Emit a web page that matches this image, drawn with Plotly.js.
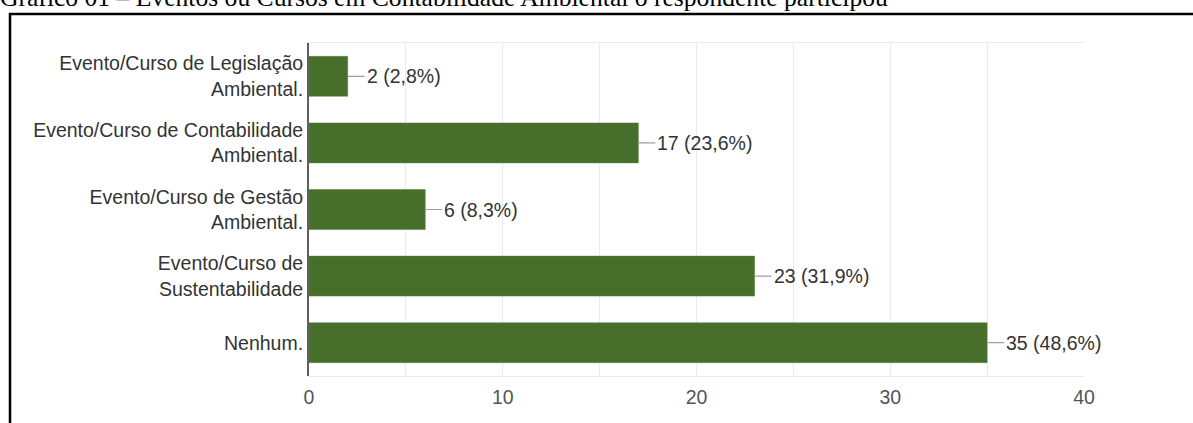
<!DOCTYPE html>
<html>
<head>
<meta charset="utf-8">
<script src="https://cdn.plot.ly/plotly-3.0.1.min.js"></script>
<style>
html,body{margin:0;padding:0;background:#fff;}
#chart{width:1193px;height:423px;}
</style>
</head>
<body>
<div id="chart"></div>
<script>
const categories = [
  "Evento/Curso de Legislação<br>Ambiental.",
  "Evento/Curso de Contabilidade<br>Ambiental.",
  "Evento/Curso de Gestão<br>Ambiental.",
  "Evento/Curso de<br>Sustentabilidade",
  "Nenhum."
];
const counts = [2, 17, 6, 23, 35];
const percents = [2.8, 23.6, 8.3, 31.9, 48.6];
const xTicks = [0, 10, 20, 30, 40];
const titleText = "Gráfico 01 – Eventos ou Cursos em Contabilidade Ambiental o respondente participou";

const W = 1193, H = 423;
const mL = 309, mR = 109, mT = 43, mB = 47;
const pw = W - mL - mR, ph = H - mT - mB;
const px2x = p => (p - mL) / pw;
const py2y = p => 1 - (p - mT) / ph;

const FONT = "Liberation Sans, Arial, sans-serif";
const labels = counts.map((c, i) => c + " (" + percents[i].toFixed(1).replace(".", ",") + "%)");

const annotations = counts.map((c, i) => ({
  x: c, y: categories[i], xref: "x", yref: "y",
  text: labels[i], showarrow: true, arrowhead: 0, arrowwidth: 1.2,
  arrowcolor: "#9e9e9e", ax: 17, ay: 0, xanchor: "left", yanchor: "middle",
  font: {family: FONT, size: 19.5, color: "#333333"}
}));
annotations.push({
  text: titleText, showarrow: false,
  xref: "paper", yref: "paper", x: px2x(-2), y: py2y(-2.3),
  xanchor: "left", yanchor: "middle",
  font: {family: "Liberation Serif, Times New Roman, serif", size: 25.6, color: "#000"}
});

const shapes = [
  {type: "line", xref: "paper", yref: "paper", x0: px2x(10), x1: px2x(10), y0: py2y(13), y1: py2y(H + 10),
   line: {color: "#000", width: 2.5}},
  {type: "line", xref: "paper", yref: "paper", x0: px2x(9), x1: px2x(W + 10), y0: py2y(14), y1: py2y(14),
   line: {color: "#000", width: 2.5}}
];

const data = [{
  type: "bar", orientation: "h",
  x: counts, y: categories,
  marker: {color: "#476e2a", line: {color: "#5b8040", width: 0.5}},
  hoverinfo: "none"
}];

const layout = {
  width: W, height: H,
  margin: {l: mL, r: mR, t: mT, b: mB, pad: 0},
  paper_bgcolor: "#fff", plot_bgcolor: "#fff",
  showlegend: false,
  bargap: 0.4,
  xaxis: {
    range: [0, 40], tickvals: xTicks, ticktext: xTicks.map(String),
    showgrid: true, gridcolor: "#ebebeb", gridwidth: 1,
    minor: {dtick: 5, tick0: 0, showgrid: true, gridcolor: "#ebebeb", gridwidth: 1},
    zeroline: false, showline: true, linecolor: "#ebebeb", linewidth: 1, mirror: true,
    ticks: "", ticklabelstandoff: 4,
    tickfont: {family: FONT, size: 19.5, color: "#555555"},
    fixedrange: true
  },
  yaxis: {
    autorange: "reversed", type: "category",
    showgrid: false, zeroline: false,
    showline: true, linecolor: "#5f5f5f", linewidth: 2,
    ticks: "", ticklabelstandoff: 0,
    tickfont: {family: FONT, size: 19.5, color: "#333333"},
    fixedrange: true
  },
  annotations: annotations,
  shapes: shapes
};

Plotly.newPlot("chart", data, layout, {displayModeBar: false, staticPlot: true});
</script>
</body>
</html>
